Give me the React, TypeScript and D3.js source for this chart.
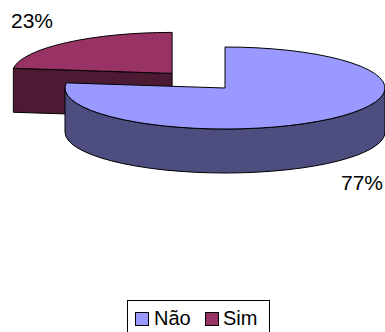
import React from "react";
import * as d3 from "d3";

const categories = ["Não", "Sim"];
const values = [77, 23];
const labels = ["77%", "23%"];
const topColors = ["#9999FF", "#993366"];
const sideColors = ["#4D4D80", "#4D1A33"];

const W = 385;
const H = 332;
const cx = 225;
const cy = 88;
const rx = 160;
const ry = 41;
const depth = 44;
const explode = [0, 0.5];

export default function App() {
  const pie = d3.pie<number>().sort(null).startAngle(0).endAngle(2 * Math.PI);
  const arcs = pie(values);

  const pt = (ox: number, oy: number, a: number): [number, number] => [
    ox + rx * Math.sin(a),
    oy - ry * Math.cos(a),
  ];

  const slices = arcs.map((a, i) => {
    const mid = (a.startAngle + a.endAngle) / 2;
    const ox = cx + explode[i] * rx * Math.sin(mid);
    const oy = cy - explode[i] * ry * Math.cos(mid) * 0.95;
    const p0 = pt(ox, oy, a.startAngle);
    const p1 = pt(ox, oy, a.endAngle);
    const large = a.endAngle - a.startAngle > Math.PI ? 1 : 0;
    const top = `M${ox},${oy}L${p0[0]},${p0[1]}A${rx},${ry} 0 ${large} 1 ${p1[0]},${p1[1]}Z`;
    const s = Math.max(a.startAngle, Math.PI / 2);
    const e = Math.min(a.endAngle, (3 * Math.PI) / 2);
    let side = "";
    if (e > s) {
      const q0 = pt(ox, oy, s);
      const q1 = pt(ox, oy, e);
      side = `M${q0[0]},${q0[1]}A${rx},${ry} 0 0 1 ${q1[0]},${q1[1]}L${q1[0]},${q1[1] + depth}A${rx},${ry} 0 0 0 ${q0[0]},${q0[1] + depth}Z`;
    }
    const faces: string[] = [];
    const addFace = (ang: number) => {
      const p = pt(ox, oy, ang);
      faces.push(`M${ox},${oy}L${p[0]},${p[1]}L${p[0]},${p[1] + depth}L${ox},${oy + depth}Z`);
    };
    if (a.startAngle > Math.PI) addFace(a.startAngle);
    if (a.endAngle < Math.PI && a.endAngle > 0) addFace(a.endAngle);
    return { top, side, faces };
  });

  const order = [1, 0];
  const font = "'Liberation Sans', Arial, sans-serif";
  const legendSquareX = [135, 205];
  const legendTextX = [154, 223];

  return (
    <svg
      width={W}
      height={H}
      style={{ position: "fixed", left: 0, top: 0, background: "#fff" }}
      fontFamily={font}
    >
      <rect width={W} height={H} fill="#fff" />
      {order.map((k) => {
        const s = slices[k];
        return (
          <g key={k} stroke="#000" strokeWidth={1} strokeLinejoin="round">
            {s.side && <path d={s.side} fill={sideColors[k]} />}
            {s.faces.map((f, j) => (
              <path key={j} d={f} fill={sideColors[k]} />
            ))}
            <path d={s.top} fill={topColors[k]} />
          </g>
        );
      })}
      <text x={11} y={28} fontSize={21} fill="#000">
        {labels[1]}
      </text>
      <text x={383} y={190} fontSize={21} fill="#000" textAnchor="end">
        {labels[0]}
      </text>
      <g>
        <rect x={127.5} y={300.5} width={142} height={40} fill="#fff" stroke="#000" />
        {categories.map((c, i) => (
          <g key={c}>
            <rect
              x={legendSquareX[i] + 0.5}
              y={312.5}
              width={13}
              height={13}
              fill={topColors[i]}
              stroke="#000"
            />
            <text x={legendTextX[i]} y={325} fontSize={20} fill="#000">
              {c}
            </text>
          </g>
        ))}
      </g>
    </svg>
  );
}
